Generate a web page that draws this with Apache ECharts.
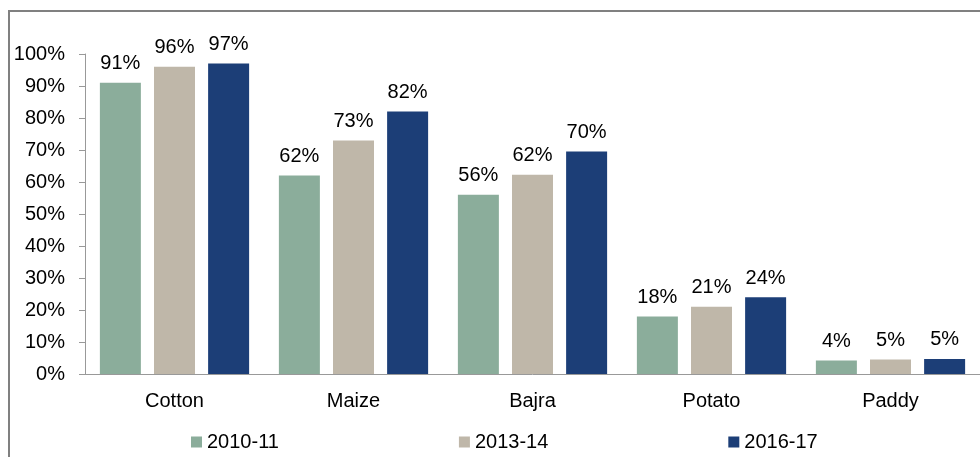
<!DOCTYPE html>
<html>
<head>
<meta charset="utf-8">
<script src="https://cdn.jsdelivr.net/npm/echarts@6/dist/echarts.min.js"></script>
<style>
  html, body { margin: 0; padding: 0; background: #fff; }
  #main { width: 980px; height: 457px; }
</style>
</head>
<body>
<div id="main"></div>
<script>
// crops on the x axis
const categories = ["Cotton", "Maize", "Bajra", "Potato", "Paddy"];
// share per year, in percent
const y2010 = [91, 62, 56, 18, 4.2];
const y2013 = [96, 73, 62.3, 21, 4.5];
const y2016 = [97, 82, 69.5, 24, 4.7];
const yearNames = ["2010-11", "2013-14", "2016-17"];
const colors = ["#8BAD9B", "#BFB7A9", "#1C3E77"];

const myChart = echarts.init(document.getElementById("main"));

const font = "Liberation Sans, Arial, sans-serif";

const makeSeries = (name, data, color) => ({
  name: name,
  type: "bar",
  data: data,
  barWidth: 41,
  barGap: "32%",
  itemStyle: { color: color },
  label: {
    show: true,
    position: "top",
    distance: 9,
    color: "#000",
    fontFamily: font,
    fontSize: 20,
    formatter: (p) => Math.round(p.value) + "%",
  },
});

const option = {
  animation: false,
  grid: { left: 85, right: 0, top: 54, bottom: 83 },
  legend: {
    bottom: 0,
    left: 186,
    itemWidth: 11,
    itemHeight: 11,
    itemGap: 180,
    icon: "rect",
    textStyle: { fontFamily: font, fontSize: 20, color: "#000" },
    data: yearNames,
  },
  xAxis: {
    type: "category",
    data: categories,
    axisLine: { lineStyle: { color: "#999", width: 1 } },
    axisTick: { show: false },
    axisLabel: { fontFamily: font, fontSize: 20, color: "#000", margin: 17 },
  },
  yAxis: {
    type: "value",
    min: 0,
    max: 100,
    interval: 10,
    axisLine: { show: true, lineStyle: { color: "#999", width: 1 } },
    axisTick: { show: true, length: 6, lineStyle: { color: "#999" } },
    splitLine: { show: false },
    axisLabel: {
      fontFamily: font,
      fontSize: 20,
      color: "#000",
      margin: 20,
      formatter: "{value}%",
    },
  },
  graphic: [
    {
      type: "polyline",
      shape: { points: [[9, 457], [9, 11], [980, 11]] },
      style: { stroke: "#808080", lineWidth: 2, fill: null },
      silent: true,
    },
  ],
  series: [
    makeSeries(yearNames[0], y2010, colors[0]),
    makeSeries(yearNames[1], y2013, colors[1]),
    makeSeries(yearNames[2], y2016, colors[2]),
  ],
};

myChart.setOption(option);
</script>
</body>
</html>
